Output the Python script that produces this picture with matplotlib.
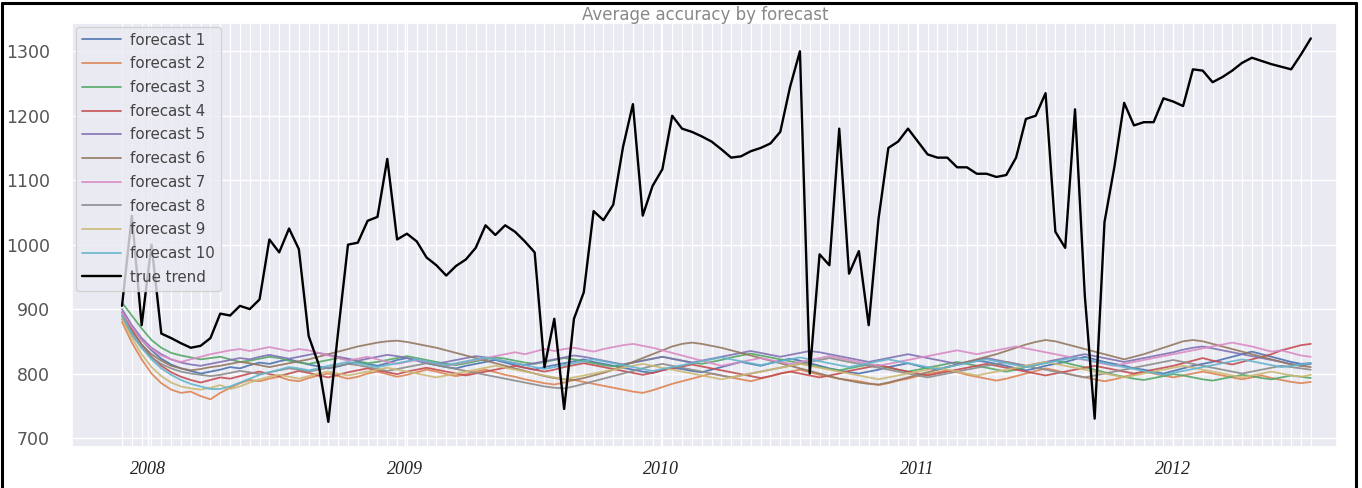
import matplotlib
matplotlib.use("Agg")
import matplotlib.pyplot as plt
import matplotlib.dates as mdates
from matplotlib.lines import Line2D
import numpy as np
import pandas as pd
import seaborn as sns

# biweekly dates, Nov 2007 .. Jul 2012
dates = pd.date_range("2007-11-25", periods=122, freq="14D")

true_trend = [
    905, 1045, 875, 1000, 862, 855, 847, 840, 843, 855,
    893, 890, 905, 900, 915, 1008, 988, 1025, 993, 858,
    815, 725, 865, 1000, 1003, 1037, 1043, 1133, 1008, 1017,
    1005, 980, 968, 952, 967, 977, 995, 1030, 1015, 1030,
    1020, 1005, 988, 810, 885, 745, 885, 926, 1052, 1038,
    1062, 1152, 1218, 1045, 1091, 1117, 1200, 1180, 1175, 1168,
    1160, 1148, 1135, 1137, 1145, 1150, 1157, 1175, 1245, 1300,
    800, 985, 968, 1180, 955, 990, 875, 1040, 1150, 1160,
    1180, 1160, 1140, 1135, 1135, 1120, 1120, 1110, 1110, 1105,
    1108, 1135, 1195, 1200, 1235, 1020, 995, 1210, 920, 730,
    1035, 1120, 1220, 1185, 1190, 1190, 1227, 1222, 1215, 1272,
    1270, 1252, 1260, 1270, 1282, 1290, 1285, 1280, 1276, 1272,
    1295, 1320,
]

forecast_1 = [
    895, 872, 852, 836, 823, 814, 808, 804, 800, 803,
    806, 810, 808, 813, 817, 815, 819, 822, 818, 814,
    811, 808, 811, 815, 818, 815, 812, 816, 821, 824,
    820, 816, 813, 810, 808, 812, 815, 818, 821, 817,
    813, 809, 806, 810, 813, 816, 819, 822, 818, 815,
    812, 809, 806, 803, 801, 805, 809, 807, 804, 802,
    806, 810, 814, 818, 815, 812, 816, 820, 823, 820,
    816, 812, 808, 805, 802, 800, 803, 806, 810, 813,
    816, 812, 808, 806, 810, 814, 817, 820, 818, 815,
    812, 808, 805, 808, 812, 815, 818, 822, 826, 822,
    818, 815, 812, 808, 806, 803, 800, 804, 808, 812,
    815, 818, 822, 826, 830, 834, 830, 826, 822, 818,
    815, 816,
]
forecast_2 = [
    880, 848, 822, 800, 785, 775, 770, 772, 765, 760,
    770, 778, 785, 790, 788, 792, 795, 790, 788, 793,
    797, 800, 796, 792, 795, 800, 803, 799, 795, 798,
    802, 806, 803, 799, 796, 799, 803, 806, 802, 798,
    795, 791, 788, 785, 783, 786, 790, 787, 784, 781,
    778, 775, 772, 770, 774, 779, 784, 788, 792, 796,
    800, 797, 794, 791, 788, 792, 796, 800, 803, 806,
    802, 798, 795, 792, 790, 788, 785, 782, 785, 789,
    792, 796, 799, 802, 805, 802, 798, 795, 792, 789,
    792, 796, 800, 804, 808, 805, 801, 797, 794, 791,
    788, 791, 795, 799, 803, 800, 797, 794, 797, 800,
    803, 800, 797, 794, 791, 794, 797, 793, 790, 787,
    785, 787,
]
forecast_3 = [
    910, 890, 870, 852, 840, 832, 828, 825, 822, 824,
    826, 822, 818, 820, 823, 826, 824, 820, 817, 815,
    818, 821, 824, 822, 819, 816, 818, 821, 824, 827,
    824, 821, 818, 815, 813, 816, 819, 822, 825, 823,
    820, 817, 815, 818, 821, 824, 822, 819, 816, 813,
    811, 814, 817, 820, 823, 826, 823, 820, 817, 815,
    818, 821, 825, 828, 831, 828, 825, 822, 819, 816,
    813, 810, 807, 805, 808, 811, 814, 812, 809, 806,
    803, 806, 809, 812, 815, 818, 815, 812, 809, 806,
    803, 806, 810, 813, 817, 820, 817, 813, 810, 806,
    802, 798, 795, 792, 790, 793, 796, 799, 797, 794,
    791, 789, 792, 795, 798, 796, 793, 791, 794, 797,
    795, 793,
]
forecast_4 = [
    895, 868, 845, 826, 812, 802, 795, 790, 786, 790,
    794, 792, 796, 800, 803, 799, 796, 800, 804, 801,
    797, 794, 798, 802, 805, 808, 805, 802, 799, 803,
    806, 809, 806, 803, 800, 797, 800, 803, 806, 809,
    812, 809, 806, 803, 806, 810, 813, 816, 813, 810,
    807, 804, 801, 798, 801, 805, 808, 811, 814, 811,
    808, 805, 802, 799, 796, 793, 796, 800, 803, 800,
    797, 794, 797, 800, 804, 807, 810, 813, 810, 806,
    803, 800, 797, 800, 803, 806, 809, 812, 815, 812,
    809, 806, 803, 800, 797, 800, 803, 806, 809, 812,
    809, 806, 803, 800, 803, 806, 809, 812, 816, 820,
    824, 820, 817, 814, 818, 822, 826, 830, 836, 840,
    844, 846,
]
forecast_5 = [
    900, 875, 855, 840, 830, 822, 817, 814, 812, 815,
    818, 821, 824, 822, 826, 829, 826, 823, 826, 829,
    832, 829, 826, 823, 820, 823, 826, 829, 827, 824,
    821, 818, 815, 818, 821, 824, 827, 825, 822, 819,
    816, 813, 816, 819, 822, 825, 828, 826, 823, 820,
    817, 814, 817, 820, 823, 826, 823, 820, 817, 820,
    823, 826, 829, 832, 835, 832, 829, 826, 829, 832,
    835, 833, 830, 827, 824, 821, 818, 821, 824, 827,
    830, 827, 824, 821, 818, 815, 818, 821, 824, 821,
    818, 815, 812, 815, 818, 821, 824, 827, 830, 827,
    824, 821, 818, 821, 824, 827, 830, 833, 837, 840,
    842, 839, 836, 833, 830, 827, 824, 821, 818, 815,
    812, 815,
]
forecast_6 = [
    890, 865, 845, 830, 820, 812, 808, 805, 807, 810,
    812, 815, 818, 816, 813, 810, 813, 816, 819, 822,
    826, 830, 834, 838, 842, 845, 848, 850, 851, 849,
    846, 843, 840, 836, 832, 828, 824, 820, 816, 812,
    808, 804, 800, 796, 793, 791, 790, 793, 797, 801,
    806, 812, 818, 824, 830, 836, 842, 846, 848, 846,
    843, 840, 836, 832, 828, 824, 820, 816, 812, 808,
    804, 800, 796, 792, 789, 786, 784, 783, 786, 790,
    794, 798, 802, 806, 810, 814, 818, 822, 826, 830,
    835, 840, 845, 849, 852, 850, 846, 842, 838, 834,
    830, 826, 822, 826, 830, 835, 840, 845, 850, 852,
    850, 846, 842, 838, 834, 830, 826, 822, 818, 814,
    812, 810,
]
forecast_7 = [
    895, 872, 852, 838, 828, 822, 818, 822, 826, 830,
    833, 836, 838, 835, 838, 841, 838, 835, 838, 836,
    832, 828, 824, 820, 823, 826, 822, 818, 815, 818,
    821, 818, 815, 812, 815, 818, 821, 824, 827, 830,
    833, 830, 834, 838, 835, 838, 840, 837, 834, 838,
    841, 844, 846, 843, 840, 836, 832, 828, 824, 820,
    816, 812, 815, 818, 821, 824, 821, 818, 815, 818,
    821, 824, 827, 824, 821, 818, 815, 812, 815, 818,
    821, 824, 827, 830, 833, 836, 833, 830, 833, 836,
    839, 842, 839, 836, 833, 830, 827, 824, 821, 818,
    815, 812, 815, 818, 821, 824, 827, 830, 833, 836,
    839, 842, 845, 848, 845, 842, 838, 834, 836, 832,
    828, 826,
]
forecast_8 = [
    885, 860, 840, 825, 815, 808, 803, 800, 798, 796,
    798, 801, 804, 802, 799, 802, 805, 808, 806, 803,
    806, 809, 812, 815, 813, 810, 807, 804, 807, 810,
    813, 816, 813, 810, 807, 804, 801, 798, 795, 792,
    789, 786, 783, 780, 778, 777, 780, 784, 788, 792,
    796, 800, 804, 808, 812, 815, 812, 809, 806, 803,
    800, 797, 794, 797, 800, 803, 806, 809, 812, 815,
    818, 821, 824, 821, 818, 815, 812, 809, 806, 803,
    800, 797, 794, 797, 800, 803, 806, 809, 812, 815,
    818, 815, 812, 809, 806, 803, 800, 797, 794, 797,
    800, 803, 806, 809, 812, 815, 818, 821, 818, 815,
    812, 809, 806, 803, 800, 803, 806, 809, 812, 810,
    808, 806,
]
forecast_9 = [
    885, 855, 830, 810, 796, 786, 780, 777, 775, 778,
    782, 776, 780, 786, 791, 795, 798, 795, 792, 796,
    800, 803, 800, 797, 800, 803, 806, 809, 806, 803,
    800, 797, 794, 797, 800, 803, 806, 809, 812, 809,
    806, 803, 800, 797, 794, 791, 794, 797, 800, 803,
    806, 809, 812, 815, 812, 809, 806, 803, 800, 797,
    794, 791, 794, 797, 800, 803, 806, 809, 812, 815,
    812, 809, 806, 803, 800, 797, 794, 791, 794, 797,
    800, 803, 806, 809, 806, 803, 800, 797, 800, 803,
    806, 809, 812, 815, 818, 815, 812, 809, 806, 803,
    800, 797, 794, 797, 800, 803, 806, 809, 812, 809,
    806, 803, 800, 797, 794, 797, 800, 803, 800, 797,
    795, 798,
]
forecast_10 = [
    890, 862, 840, 822, 808, 798, 790, 784, 780, 776,
    776, 780, 786, 792, 798, 802, 806, 810, 808, 805,
    808, 812, 815, 818, 816, 813, 810, 813, 816, 819,
    822, 819, 816, 813, 816, 819, 822, 825, 822, 819,
    816, 813, 810, 807, 810, 813, 816, 819, 822, 819,
    816, 813, 810, 807, 804, 807, 810, 813, 816, 819,
    822, 825, 822, 819, 816, 813, 816, 819, 822, 825,
    822, 819, 816, 813, 810, 813, 816, 819, 822, 819,
    816, 813, 810, 807, 810, 813, 816, 819, 822, 819,
    816, 813, 810, 813, 816, 819, 822, 825, 822, 819,
    816, 813, 810, 807, 804, 801, 798, 801, 804, 807,
    810, 813, 816, 819, 822, 819, 816, 813, 810, 812,
    814, 816,
]

forecasts = [forecast_1, forecast_2, forecast_3, forecast_4, forecast_5,
             forecast_6, forecast_7, forecast_8, forecast_9, forecast_10]
labels = [f"forecast {i}" for i in range(1, 11)]
title = "Average accuracy by forecast"

sns.set_theme(style="darkgrid")
plt.rcParams["font.family"] = ["DejaVu Sans"]
colors = sns.color_palette("deep", 10)

fig = plt.figure(figsize=(13.62, 4.88), dpi=100)
ax = fig.add_axes([0.053, 0.084, 0.929, 0.869])

for vals, lab, c in zip(forecasts, labels, colors):
    ax.plot(dates, vals, color=c, linewidth=1.3, alpha=0.9, label=lab)
ax.plot(dates, true_trend, color="black", linewidth=1.7, label="true trend")

ax.set_xlim(pd.Timestamp("2007-09-15"), pd.Timestamp("2012-08-22"))
ax.set_ylim(686, 1344)
ax.set_yticks(range(700, 1301, 100))
ax.tick_params(axis="y", labelsize=12.5, labelcolor="#555555", pad=10)

ax.xaxis.set_major_locator(mdates.YearLocator())
ax.xaxis.set_major_formatter(mdates.DateFormatter("%Y"))
ax.set_xticks(mdates.date2num(dates), minor=True)
ax.grid(which="minor", axis="x", color="white", linewidth=0.9)
ax.grid(which="major", color="white", linewidth=1.0)
ax.tick_params(axis="x", which="minor", length=0)
for lbl in ax.get_xticklabels():
    lbl.set_fontfamily(["Liberation Serif"])
    lbl.set_fontstyle("italic")
    lbl.set_fontsize(13)
    lbl.set_color("#222222")
ax.tick_params(axis="x", pad=4)

ax.set_title(title, fontsize=12, color="#888888", pad=2)

ax.legend(loc="upper left", fontsize=10.8, frameon=True, framealpha=0.8,
          handlelength=2.6, handletextpad=0.6, labelspacing=0.58,
          borderaxespad=0.25, labelcolor="#444444")

# black frame around the picture
fig.add_artist(Line2D([0.0018, 0.0018], [0, 0.994], transform=fig.transFigure,
                      color="black", linewidth=2.2))
fig.add_artist(Line2D([0.9955, 0.9955], [0, 0.994], transform=fig.transFigure,
                      color="black", linewidth=2.2))
fig.add_artist(Line2D([0.0018, 0.9955], [0.994, 0.994], transform=fig.transFigure,
                      color="black", linewidth=2.2))

fig.savefig("out.png", dpi=100)
